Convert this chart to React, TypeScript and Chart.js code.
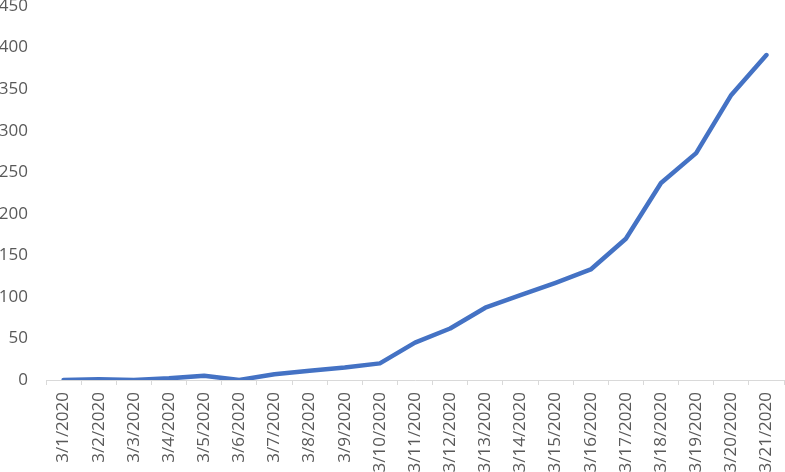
import React, { useEffect, useRef } from "react";
import { Chart, registerables } from "chart.js";

Chart.register(...registerables);

const categories = [
  "3/1/2020", "3/2/2020", "3/3/2020", "3/4/2020", "3/5/2020", "3/6/2020", "3/7/2020",
  "3/8/2020", "3/9/2020", "3/10/2020", "3/11/2020", "3/12/2020", "3/13/2020", "3/14/2020",
  "3/15/2020", "3/16/2020", "3/17/2020", "3/18/2020", "3/19/2020", "3/20/2020", "3/21/2020",
];
const cases = [0, 1, 0, 2, 5, 0, 7, 11, 15, 20, 45, 62, 87, 102, 117, 133, 170, 237, 273, 343, 391];
const yMin = 0;
const yMax = 450;
const yStep = 50;

export default function App() {
  const ref = useRef<HTMLCanvasElement | null>(null);
  useEffect(() => {
    if (!ref.current) return;
    const chart = new Chart(ref.current, {
      type: "line",
      data: {
        labels: categories,
        datasets: [
          {
            data: cases,
            borderColor: "#4472C4",
            backgroundColor: "#4472C4",
            borderWidth: 4.5,
            pointRadius: 0,
            tension: 0,
            borderCapStyle: "round",
            borderJoinStyle: "round",
          },
        ],
      },
      options: {
        animation: false,
        responsive: true,
        maintainAspectRatio: false,
        layout: { padding: 0 },
        plugins: { legend: { display: false }, tooltip: { enabled: false } },
        scales: {
          x: {
            type: "category",
            offset: true,
            grid: {
              offset: true,
              drawOnChartArea: false,
              drawTicks: true,
              tickLength: 5,
              color: "#d9d9d9",
            },
            border: { display: true, color: "#d9d9d9", width: 1 },
            afterFit: (scale: any) => {
              scale.height = 92;
              scale.paddingLeft = 0;
              scale.paddingRight = 1;
            },
            ticks: {
              autoSkip: false,
              minRotation: 90,
              maxRotation: 90,
              padding: 7,
              color: "#595959",
              font: { family: "'Open Sans'", size: 17 },
            },
          },
          y: {
            min: yMin,
            max: yMax,
            grid: { display: false },
            border: { display: false },
            afterFit: (scale: any) => {
              scale.width = 46;
              scale.paddingTop = 6;
              scale.paddingBottom = 0;
            },
            ticks: {
              stepSize: yStep,
              padding: 10,
              color: "#595959",
              font: { family: "'Open Sans'", size: 17 },
            },
          },
        },
      },
    });
    return () => chart.destroy();
  }, []);
  return (
    <div style={{ position: "absolute", left: 0, top: 0, width: 785, height: 472 }}>
      <canvas ref={ref} />
    </div>
  );
}
